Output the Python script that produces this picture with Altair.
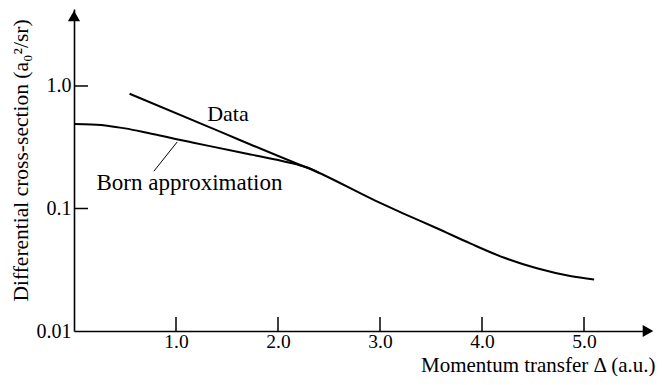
import altair as alt
import pandas as pd

# ---- values ----
data_delta = [0.545, 1.338, 2.17, 2.317, 2.953, 3.231, 3.558, 3.884, 4.211, 4.538, 4.864, 5.099]
data_sigma = [0.864, 0.457, 0.235, 0.210, 0.116, 0.0909, 0.0690, 0.0519, 0.0398, 0.0325, 0.0281, 0.0263]

born_delta = [0.0, 0.17, 0.342, 0.5, 0.669, 0.83, 0.995, 1.16, 1.321, 1.648, 1.975, 2.17, 2.317, 2.40]
born_sigma = [0.4887, 0.4842, 0.4721, 0.4508, 0.4236, 0.3963, 0.3698, 0.3459, 0.3243, 0.2851,
              0.2512, 0.2301, 0.2113, 0.1959]

x_ticks = [1.0, 2.0, 3.0, 4.0, 5.0]
y_ticks = [0.01, 0.1, 1.0]
y_inner_ticks = [0.1, 1.0]

label_text = ["Data", "Born approximation"]
label_delta = [1.509, 1.132]
label_sigma = [0.519, 0.142]
label_size = [22, 23]

leader_x = [0.783]
leader_x2 = [1.012]
leader_y = [0.2015]
leader_y2 = [0.3495]

x_title = "Momentum transfer \u0394 (a.u.)"
y_title = "Differential cross-section (a\u2080\u00b2/sr)"

FONT = "Liberation Serif"
W, H = 576, 322

x_scale = alt.Scale(domain=[0, 5.647], nice=False, zero=False)
y_scale = alt.Scale(type="log", domain=[0.01, 4.25], nice=False)

x_axis = alt.Axis(
    values=x_ticks, format=".1f", ticks=False, grid=False,
    domainColor="black", domainWidth=1.6, labelFlush=False,
    labelFont=FONT, labelFontSize=19.5, labelColor="black", labelPadding=1,
    title=x_title, titleX=581, titleY=40, titleAlign="right",
    titleBaseline="alphabetic", titleFont=FONT, titleFontSize=21,
    titleFontWeight="normal", titleColor="black",
)
y_axis = alt.Axis(
    values=y_ticks, ticks=False, grid=False,
    labelExpr="datum.value == 1 ? '1.0' : format(datum.value, '~g')",
    domainColor="black", domainWidth=1.6, labelFlush=False,
    labelFont=FONT, labelFontSize=20, labelColor="black", labelPadding=3,
    title=y_title, titleX=-47, titleY=151, titleAngle=270, titleAlign="center",
    titleBaseline="alphabetic", titleFont=FONT, titleFontSize=21.5,
    titleFontWeight="normal", titleColor="black",
)

born_df = pd.DataFrame({"delta": born_delta, "sigma": born_sigma})
data_df = pd.DataFrame({"delta": data_delta, "sigma": data_sigma})

born = alt.Chart(born_df).mark_line(color="black", strokeWidth=2, interpolate="monotone").encode(
    x=alt.X("delta:Q", scale=x_scale, axis=x_axis),
    y=alt.Y("sigma:Q", scale=y_scale, axis=y_axis),
)
data_line = alt.Chart(data_df).mark_line(color="black", strokeWidth=2, interpolate="monotone").encode(
    x=alt.X("delta:Q", scale=x_scale, axis=x_axis),
    y=alt.Y("sigma:Q", scale=y_scale, axis=y_axis),
)

xt = alt.Chart(pd.DataFrame({"v": x_ticks})).mark_rule(color="black", strokeWidth=1.5).encode(
    x=alt.X("v:Q", scale=x_scale, axis=x_axis),
    y=alt.value(H), y2=alt.value(H - 14),
)
yt = alt.Chart(pd.DataFrame({"v": y_inner_ticks})).mark_rule(color="black", strokeWidth=1.5).encode(
    y=alt.Y("v:Q", scale=y_scale, axis=y_axis),
    x=alt.value(0), x2=alt.value(14),
)

leader = alt.Chart(pd.DataFrame({"x": leader_x, "x2": leader_x2, "y": leader_y, "y2": leader_y2})).mark_rule(
    color="black", strokeWidth=1
).encode(
    x=alt.X("x:Q", scale=x_scale, axis=x_axis), x2="x2:Q",
    y=alt.Y("y:Q", scale=y_scale, axis=y_axis), y2="y2:Q",
)

labels = alt.Chart(pd.DataFrame({"t": label_text, "d": label_delta, "s": label_sigma, "fs": label_size})).mark_text(
    font=FONT, color="black", align="center", baseline="alphabetic"
).encode(
    x=alt.X("d:Q", scale=x_scale, axis=x_axis),
    y=alt.Y("s:Q", scale=y_scale, axis=y_axis),
    text="t:N",
    size=alt.Size("fs:Q", scale=None, legend=None),
)

one = pd.DataFrame({"a": [0]})
arrow_up = alt.Chart(one).mark_point(shape="triangle-up", filled=True, color="black", opacity=1, size=150).encode(
    x=alt.value(0), y=alt.value(7)
)
arrow_right = alt.Chart(one).mark_point(shape="triangle-right", filled=True, color="black", opacity=1, size=150).encode(
    x=alt.value(W - 2), y=alt.value(H)
)

chart = alt.layer(born, data_line, xt, yt, leader, labels, arrow_up, arrow_right).properties(
    width=W, height=H,
    autosize=alt.AutoSizeParams(type="none"),
    padding={"left": 66, "top": 1, "right": 6, "bottom": 45},
    background="white",
).configure_view(stroke=None)

chart.save("out.html", embed_options={"renderer": "svg", "actions": False})
